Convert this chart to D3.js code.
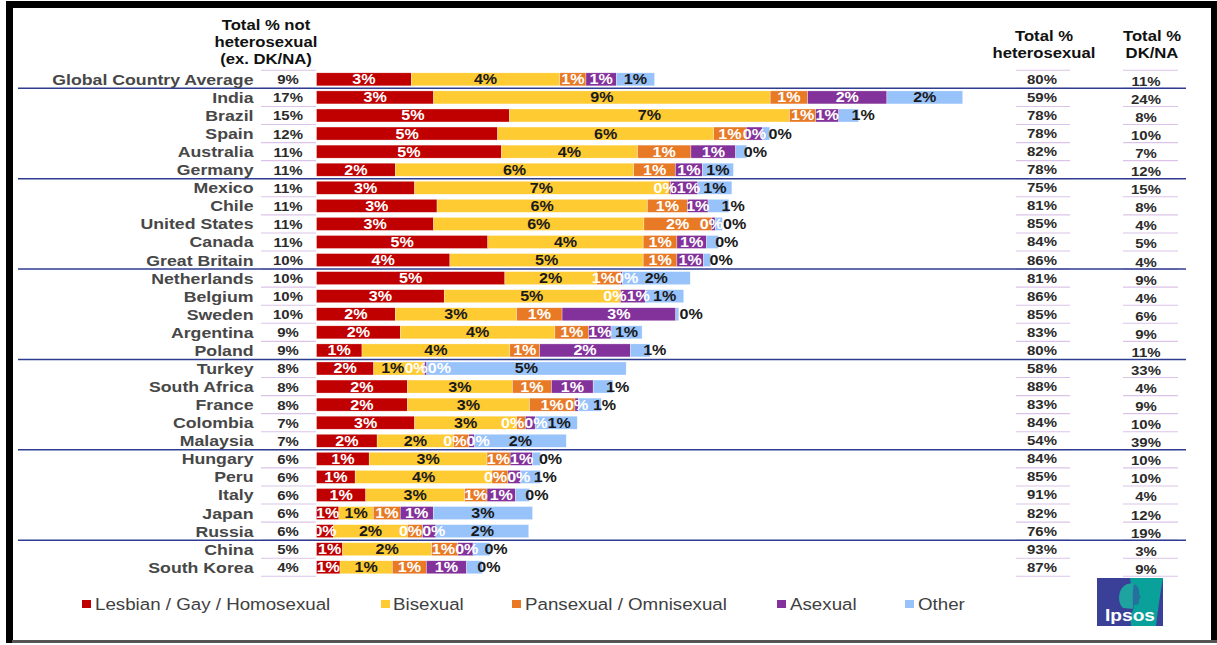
<!DOCTYPE html>
<html><head><meta charset="utf-8">
<script src="https://cdn.jsdelivr.net/npm/d3@7"></script>
<style>body{margin:0;background:#fff}svg{display:block}</style>
</head><body>
<svg id="chart" width="1217" height="645"></svg>
<script>
const countries = ["Global Country Average","India","Brazil","Spain","Australia","Germany","Mexico","Chile","United States","Canada","Great Britain","Netherlands","Belgium","Sweden","Argentina","Poland","Turkey","South Africa","France","Colombia","Malaysia","Hungary","Peru","Italy","Japan","Russia","China","South Korea"];
const lgb       = [2.50,3.09,5.09,4.78,4.88,2.08,2.59,3.18,3.09,4.52,3.52,4.97,3.37,2.08,2.21,1.20,1.51,2.40,2.40,2.59,1.60,1.39,1.02,1.30,0.59,0.45,0.69,0.62];
const bisexual  = [3.92,8.88,7.39,5.70,3.59,6.29,6.69,5.55,5.55,4.10,5.10,2.42,4.62,3.20,4.08,3.90,1.31,2.77,3.22,2.69,2.02,3.11,3.61,2.61,0.91,1.95,2.35,1.38];
const pansexual = [0.69,0.99,0.69,0.86,1.41,1.10,0.06,1.06,1.78,0.89,0.89,0.63,0.04,1.20,0.89,0.79,0.03,1.03,1.20,0.23,0.40,0.61,0.42,0.59,0.71,0.40,0.69,0.90];
const asexual   = [0.80,2.09,0.61,0.43,1.18,0.71,0.72,0.54,0.10,0.78,0.70,0.05,0.65,3.00,0.59,2.39,0.06,1.10,0.09,0.26,0.15,0.59,0.34,0.75,0.87,0.35,0.40,1.06];
const other     = [1.01,2.00,0.52,0.19,0.29,0.82,0.90,0.55,0.19,0.32,0.19,1.79,1.01,0.08,0.82,0.52,5.26,0.52,0.60,1.11,2.42,0.21,0.52,0.37,2.62,2.45,0.45,0.42];
const notHetero = [9,17,15,12,11,11,11,11,11,11,10,10,10,10,9,9,8,8,8,7,7,6,6,6,6,6,5,4];
const hetero    = [80,59,78,78,82,78,75,81,85,84,86,81,86,85,83,80,58,88,83,84,54,84,85,91,82,76,93,87];
const dkna      = [11,24,8,10,7,12,15,8,4,5,4,9,4,6,9,11,33,4,9,10,39,10,10,4,12,19,3,9];
const seriesNames  = ["Lesbian / Gay / Homosexual","Bisexual","Pansexual / Omnisexual","Asexual","Other"];
const groupStarts  = ["India","Mexico","Netherlands","Turkey","Hungary","China"];
const headerLeft   = ["Total % not","heterosexual","(ex. DK/NA)"];
const headerHet    = ["Total %","heterosexual"];
const headerDk     = ["Total %","DK/NA"];

const seriesColors = ["#C00000","#FFCB33","#E87A26","#84329B","#97C2FA"];
const labelColors  = ["#ffffff","#1a1a1a","#ffffff","#ffffff","#1a1a1a"];
const SX = 1.15;
const FONT = "'Liberation Sans', Arial, sans-serif";

const svg = d3.select("#chart");
const rows = countries.map((c,i)=>({country:c, s0:lgb[i], s1:bisexual[i], s2:pansexual[i], s3:asexual[i], s4:other[i]}));
const keys = ["s0","s1","s2","s3","s4"];
const stacked = d3.stack().keys(keys)(rows);

const y = d3.scaleBand().domain(countries).range([70.3, 576.3]);
const x = d3.scaleLinear().domain([0,20]).range([316.5, 316.5 + 20*37.9]);
const barH = 13;
const cy = c => y(c) + y.bandwidth()/2;

function txt(parent, px, py, s, o) {
  const g = parent.append("g").attr("transform", `translate(${px},${py}) scale(${SX},1)`);
  const t = g.append("text").attr("x",0).attr("y",0).text(s)
    .attr("font-family", FONT).attr("font-size", o.size || 13)
    .attr("font-weight", o.weight || "bold").attr("fill", o.fill || "#333")
    .attr("text-anchor", o.anchor || "middle");
  return t;
}

// frame
svg.append("rect").attr("x",6).attr("y",1).attr("width",1211).attr("height",7).attr("fill","#000");
svg.append("rect").attr("x",6).attr("y",1).attr("width",7).attr("height",642).attr("fill","#000");
svg.append("rect").attr("x",1211).attr("y",1).attr("width",6).attr("height",642).attr("fill","#000");
svg.append("rect").attr("x",12).attr("y",640).attr("width",1205).attr("height",3).attr("fill","#555");

// headers
headerLeft.forEach((h,i)=>txt(svg, 266, 30 + i*17, h, {size:14.5, fill:"#111"}));
headerHet.forEach((h,i)=>txt(svg, 1044, 41 + i*17, h, {size:14.5, fill:"#111"}));
headerDk.forEach((h,i)=>txt(svg, 1152, 41 + i*17, h, {size:14.5, fill:"#111"}));

// lavender cell lines
const lav = svg.append("g").attr("stroke","#DCC3EA").attr("stroke-width",1.1);
const boundaries = countries.map(c=>y(c)).concat([y(countries[countries.length-1]) + y.step()]);
boundaries.forEach(b=>{
  [[261,316],[1016,1070],[1123,1178]].forEach(([a,e])=>{
    lav.append("line").attr("x1",a).attr("x2",e).attr("y1",b).attr("y2",b);
  });
});

// group separators
groupStarts.forEach(c=>{
  svg.append("line").attr("x1",18).attr("x2",1186).attr("y1",y(c)).attr("y2",y(c))
    .attr("stroke","#2E3D8F").attr("stroke-width",1.5);
});

// country labels and numeric columns
countries.forEach((c,i)=>{
  txt(svg, 253.5, cy(c)+5.5, c, {size:15.4, anchor:"end", fill:"#474747"});
  txt(svg, 288, cy(c)+5, notHetero[i]+"%", {size:13, fill:"#2a2a2a"});
  txt(svg, 1042, cy(c)+4.5, hetero[i]+"%", {size:13, fill:"#2a2a2a"});
  txt(svg, 1146, cy(c)+6.5, dkna[i]+"%", {size:13, fill:"#2a2a2a"});
});

// bars
const barG = svg.append("g");
stacked.forEach((layer,k)=>{
  barG.selectAll(null).data(layer).enter().append("rect")
    .attr("x", d=>x(d[0])).attr("width", d=>Math.max(0, x(d[1])-x(d[0])))
    .attr("y", d=>cy(d.data.country)-barH/2).attr("height", barH)
    .attr("fill", seriesColors[k]).attr("stroke","#ffffff").attr("stroke-width",0.5).attr("stroke-opacity",0.6);
});

// bar labels
svg.append("clipPath").attr("id","lblclip").append("rect")
  .attr("x", x(0)).attr("y", 60).attr("width", 700).attr("height", 530);
const lblG = svg.append("g").attr("clip-path","url(#lblclip)");
rows.forEach((r,i)=>{
  const labs = keys.map((k,j)=>{
    const d = stacked[j][i];
    const x0 = x(d[0]), x1 = x(d[1]);
    const t = txt(lblG, 0, cy(r.country)+5, Math.round(d[1]-d[0])+"%", {size:14, fill:labelColors[j]});
    const w = t.node().getComputedTextLength()*SX;
    let c = (x0+x1)/2;
    if (j===4 && (x1-x0) < 24) c = x1 + 2 - 0.45*(x1-x0) + w/2;
    return {t, w, c};
  });
  for (let it=0; it<60; it++) {
    for (let j=1; j<labs.length; j++) {
      const a = labs[j-1], b = labs[j];
      const ov = (a.c + a.w/2) - (b.c - b.w/2);
      if (ov > 0.01) { a.c -= ov/2; b.c += ov/2; }
    }
  }
  labs.forEach(l=>{
    d3.select(l.t.node().parentNode).attr("transform", `translate(${l.c},${cy(r.country)+5}) scale(${SX},1)`);
  });
});

// legend
const legX = [[82,95],[381,393],[512,525],[777,790],[905,918]];
seriesNames.forEach((n,k)=>{
  svg.append("rect").attr("x",legX[k][0]).attr("y",600).attr("width",9).attr("height",8).attr("fill",seriesColors[k]);
  txt(svg, legX[k][1], 610, n, {size:16.3, weight:"normal", anchor:"start", fill:"#404040"});
});

// Ipsos logo
const logo = svg.append("g").attr("transform","translate(1097,578)");
logo.append("rect").attr("width",66).attr("height",48).attr("fill","#3A3F98");
logo.append("path").attr("d","M33,0 H66 C63,16 61,32 59,48 H34 C33,40 34,34 37,30 Z").attr("fill","#0BA19B");
logo.append("path").attr("d","M26,30 C22,26 21,20 23,14 C25,7 32,4 37,6 C41,8 43,12 42,16 L44,20 L42,21 L42,24 C42,27 39,27 37,27 L37,31 Z").attr("fill","#1FA3A0");
logo.append("path").attr("d","M37,6 C41,8 43,12 42,16 L44,20 L42,21 L42,24 C42,27 39,27 37,27 L37,31 L36,31 C36,22 35,12 37,6 Z").attr("fill","#2B4E9C").attr("opacity",0.6);
logo.append("text").attr("x",8).attr("y",43).text("Ipsos").attr("font-family",FONT).attr("font-weight","bold")
  .attr("font-size",17).attr("fill","#fff").attr("textLength",50).attr("lengthAdjust","spacingAndGlyphs");
</script>
</body></html>
